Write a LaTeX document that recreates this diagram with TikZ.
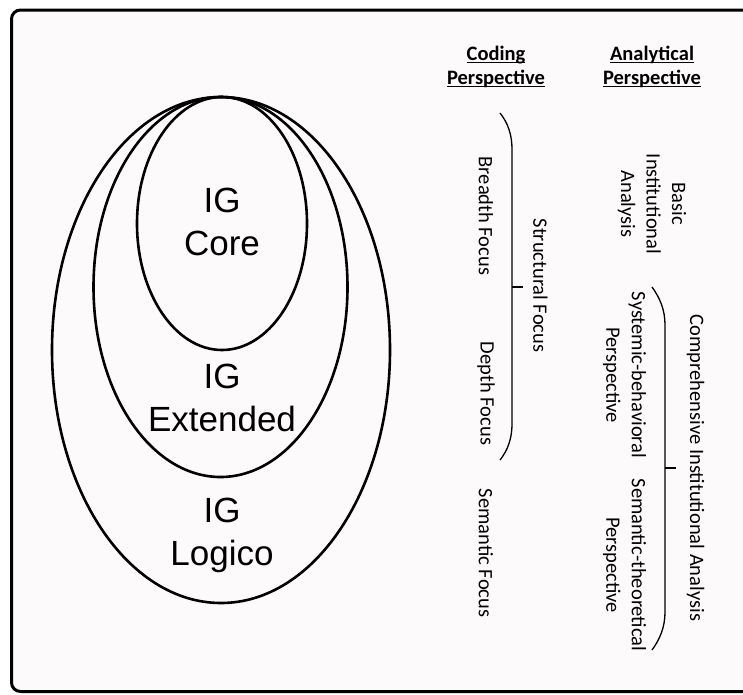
\documentclass[tikz,border=0pt]{standalone}
\usepackage{fontspec}
\setmainfont{Carlito}
\newfontfamily\arialfont{Liberation Sans}
\definecolor{paper}{RGB}{253,250,252}
\newcommand\myuline[1]{\setbox0\hbox{#1}\rlap{\rule[-2.6pt]{\wd0}{1.1pt}}\box0}
\tikzset{
  frame/.style={draw=black, line width=3pt, rounded corners=9pt, fill=paper},
  set/.style={draw=black, line width=2.6pt},
  setlabel/.style={font=\arialfont\fontsize{35}{43}\selectfont, anchor=base, inner sep=0pt},
  head/.style={font=\bfseries\fontsize{20.5}{24.5}\selectfont, align=center, inner sep=0pt},
  vlabel/.style={font=\fontsize{20.5}{25.5}\selectfont, rotate=-90, align=center, inner sep=0pt},
  brace/.style={draw=black, line width=1.3pt}
}
\begin{document}
\begin{tikzpicture}[x=1pt, y=-1pt]
\clip (0,0) rectangle (743,694);
\fill[white] (0,0) rectangle (743,694);
\path[frame] (11.5,10) rectangle (780,691.5);

% nested sets
\draw[set] (221,350) ellipse [x radius=169, y radius=253];
\draw[set] (220.5,287) ellipse [x radius=127, y radius=190];
\draw[set] (222,223.5) ellipse [x radius=85, y radius=126.5];

\node[setlabel] (coreA) at (222,212) {IG};
\node[setlabel] (coreB) at (222,255) {Core};
\node[setlabel] (extA) at (222,388) {IG};
\node[setlabel] (extB) at (222,431) {Extended};
\node[setlabel] (logA) at (222,522) {IG};
\node[setlabel] (logB) at (222,565) {Logico};

% headers
\node[head] (codhead) at (496,67) {\myuline{Coding}\\\myuline{Perspective}};
\node[head] (anahead) at (652,67) {\myuline{Analytical}\\\myuline{Perspective}};

% coding perspective
\node[vlabel] (breadth) at (486,216) {Breadth Focus};
\node[vlabel] (depth) at (486,393.5) {Depth Focus};
\node[vlabel] (semfocus) at (486,553) {Semantic Focus};
\node[vlabel] (structural) at (540.5,285.5) {Structural Focus};
\draw[brace] (500,113) .. controls (508,123) and (512,135) .. (512,149)
  -- (512,424) .. controls (512,438) and (508,450) .. (500,460);
\draw[brace] (512,287) -- (523,287);

% analytical perspective
\node[vlabel] (basic) at (652,204) {Basic\\Institutional\\Analysis};
\node[vlabel] (sysbeh) at (624.5,375) {Systemic-behavioral\\Perspective};
\node[vlabel] (semtheo) at (624.5,565) {Semantic-theoretical\\Perspective};
\node[vlabel] (comprehensive) at (695.5,468) {Comprehensive Institutional Analysis};
\draw[brace] (652,287) .. controls (660,298) and (665,310) .. (665,325)
  -- (665,612) .. controls (665,627) and (660,639) .. (652,650);
\draw[brace] (665,468) -- (676,468);
\end{tikzpicture}
\end{document}
